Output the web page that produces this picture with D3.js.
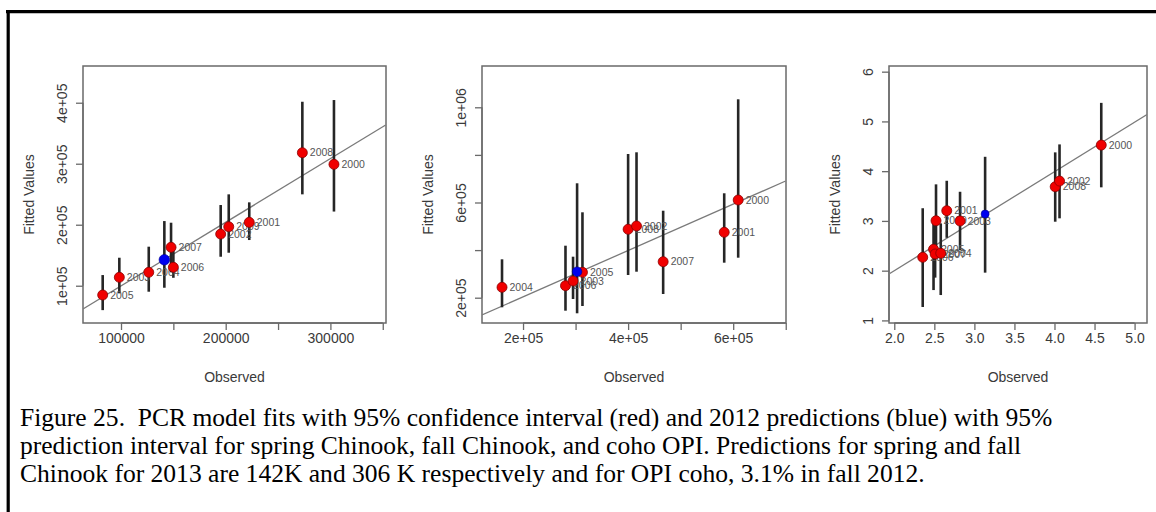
<!DOCTYPE html>
<html><head><meta charset="utf-8">
<script src="https://cdn.jsdelivr.net/npm/d3@7"></script>
<style>
html,body{margin:0;padding:0;background:#fff;}
svg{display:block;}
</style>
</head><body>
<svg id="chart" width="1156" height="512"></svg>
<script>
// ---------- DATA ----------
// Panel 1: spring Chinook
const p1Years = ["2005","2003","2004","2007","2006","2002","2009","2001","2008","2000"];
const p1Obs   = [82500, 98400, 126500, 147800, 150000, 195200, 202900, 222500, 273200, 303400];
const p1Fit   = [84800, 113800, 122000, 163000, 130200, 184700, 196700, 203900, 318000, 299000];
const p1Lo    = [60000, 87500, 90200, 122000, 113000, 147500, 154100, 174900, 249800, 221600];
const p1Hi    = [117500, 145900, 164000, 203300, 166000, 232300, 249800, 236700, 401600, 404400];
const p1Pred  = [141400, 142600, 96700, 206000];   // obs, fitted, lo, hi
const p1Line  = [[63700, 61800], [352800, 363400]];
const p1XTicks = [100000, 150000, 200000, 250000, 300000, 350000];
const p1XLabels = ["100000", "", "200000", "", "300000", ""];
const p1YTicks = [100000, 200000, 300000, 400000];
const p1YLabels = ["1e+05", "2e+05", "3e+05", "4e+05"];

// Panel 2: fall Chinook
const p2Years = ["2004","2006","2003","2005","2008","2002","2007","2001","2000"];
const p2Obs   = [160000, 280800, 295200, 313100, 400000, 416000, 466700, 582900, 609500];
const p2Fit   = [243700, 250400, 270200, 306700, 487400, 501300, 351300, 474800, 610500];
const p2Lo    = [159700, 145400, 194500, 165100, 295400, 309200, 215500, 347100, 368100];
const p2Hi    = [361300, 418500, 372300, 558800, 803800, 810900, 565500, 638700, 1033600];
const p2Pred  = [302900, 309200, 134500, 680700];
const p2Line  = [[121900, 127300], [699800, 690300]];
const p2XTicks = [200000, 300000, 400000, 500000, 600000, 700000];
const p2XLabels = ["2e+05", "", "4e+05", "", "6e+05", ""];
const p2YTicks = [200000, 400000, 600000, 800000, 1000000];
const p2YLabels = ["2e+05", "", "6e+05", "", "1e+06"];

// Panel 3: coho OPI
const p3Years = ["2006","2005","2007","2004","2009","2001","2003","2008","2002","2000"];
const p3Obs   = [2.355, 2.49, 2.51, 2.58, 2.521, 2.655, 2.821, 4.009, 4.063, 4.584];
const p3Fit   = [2.269, 2.43, 2.335, 2.35, 3.004, 3.205, 2.998, 3.687, 3.801, 4.524];
const p3Lo    = [1.27, 1.61, 1.86, 1.51, 2.27, 2.66, 2.41, 2.984, 3.052, 3.675];
const p3Hi    = [3.255, 3.0, 2.9, 2.95, 3.735, 3.807, 3.586, 4.378, 4.538, 5.373];
const p3Pred  = [3.134, 3.139, 1.96, 4.289];
const p3Line  = [[1.934, 1.934], [5.155, 5.14]];
const p3XTicks = [2.0, 2.5, 3.0, 3.5, 4.0, 4.5, 5.0];
const p3XLabels = ["2.0", "2.5", "3.0", "3.5", "4.0", "4.5", "5.0"];
const p3YTicks = [1, 2, 3, 4, 5, 6];
const p3YLabels = ["1", "2", "3", "4", "5", "6"];

const xTitle = "Observed";
const yTitle = "Fitted Values";
const captionLines = [
  "Figure 25.  PCR model fits with 95% confidence interval (red) and 2012 predictions (blue) with 95%",
  "prediction interval for spring Chinook, fall Chinook, and coho OPI. Predictions for spring and fall",
  "Chinook for 2013 are 142K and 306 K respectively and for OPI coho, 3.1% in fall 2012."
];

// ---------- DRAW ----------
const svg = d3.select("#chart");
const AXF = "'Liberation Sans', Arial, sans-serif";

// outer frame
svg.append("line").attr("x1", 6).attr("x2", 1156).attr("y1", 11.7).attr("y2", 11.7)
  .attr("stroke", "#000").attr("stroke-width", 3.2);
svg.append("line").attr("x1", 8.2).attr("x2", 8.2).attr("y1", 10).attr("y2", 512)
  .attr("stroke", "#000").attr("stroke-width", 3.2);

const panels = [
  {id: 1, box: [83, 386, 66, 323], xd: [63700, 353100], yd: [38900, 460200],
   years: p1Years, obs: p1Obs, fit: p1Fit, lo: p1Lo, hi: p1Hi, pred: p1Pred, line: p1Line,
   xt: p1XTicks, xl: p1XLabels, yt: p1YTicks, yl: p1YLabels, br: 5.3},
  {id: 2, box: [482, 786, 66, 323], xd: [121900, 700500], yd: [93700, 1173500],
   years: p2Years, obs: p2Obs, fit: p2Fit, lo: p2Lo, hi: p2Hi, pred: p2Pred, line: p2Line,
   xt: p2XTicks, xl: p2XLabels, yt: p2YTicks, yl: p2YLabels, br: 4.8},
  {id: 3, box: [889, 1147, 66, 323], xd: [1.934, 5.155], yd: [0.948, 6.114],
   years: p3Years, obs: p3Obs, fit: p3Fit, lo: p3Lo, hi: p3Hi, pred: p3Pred, line: p3Line,
   xt: p3XTicks, xl: p3XLabels, yt: p3YTicks, yl: p3YLabels, br: 4.0}
];

panels.forEach(p => {
  const [bx0, bx1, by0, by1] = p.box;
  const x = d3.scaleLinear().domain(p.xd).range([bx0, bx1]);
  const y = d3.scaleLinear().domain(p.yd).range([by1, by0]);
  const g = svg.append("g");

  const clipId = "clip" + p.id;
  svg.append("clipPath").attr("id", clipId).append("rect")
    .attr("x", bx0).attr("y", by0).attr("width", bx1 - bx0).attr("height", by1 - by0);

  // axes
  const xAxis = d3.axisBottom(x).tickValues(p.xt).tickSize(7).tickPadding(9)
    .tickFormat((d, i) => p.xl[i]);
  const gx = g.append("g").attr("transform", `translate(0,${by1})`).call(xAxis);
  gx.select(".domain").attr("d", `M${x(p.xt[0])},0H${x(p.xt[p.xt.length-1])}`)
    .attr("stroke", "#6a6a6a").attr("stroke-width", 1.3);
  gx.selectAll(".tick line").attr("stroke", "#6a6a6a").attr("stroke-width", 1.3);
  gx.selectAll(".tick text").attr("font-family", AXF).attr("font-size", 14)
    .attr("fill", "#3a3a3a").attr("y", 16).attr("dy", "0.32em");

  const yAxis = d3.axisLeft(y).tickValues(p.yt).tickSize(7).tickFormat((d, i) => p.yl[i]);
  const gy = g.append("g").attr("transform", `translate(${bx0},0)`).call(yAxis);
  gy.select(".domain").attr("d", `M0,${y(p.yt[0])}V${y(p.yt[p.yt.length-1])}`)
    .attr("stroke", "#6a6a6a").attr("stroke-width", 1.3);
  gy.selectAll(".tick line").attr("stroke", "#6a6a6a").attr("stroke-width", 1.3);
  gy.selectAll(".tick text").attr("font-family", AXF).attr("font-size", 14)
    .attr("fill", "#3a3a3a").attr("x", null).attr("dy", null)
    .attr("text-anchor", "middle")
    .attr("transform", "translate(-21,0) rotate(-90)")
    .attr("y", 0).attr("dy", "0.35em");

  // box
  g.append("rect").attr("x", bx0).attr("y", by0).attr("width", bx1 - bx0).attr("height", by1 - by0)
    .attr("fill", "none").attr("stroke", "#6a6a6a").attr("stroke-width", 1.5);

  // titles
  g.append("text").attr("x", (bx0 + bx1) / 2).attr("y", 377.5).attr("dy", "0.35em")
    .attr("text-anchor", "middle").attr("font-family", AXF).attr("font-size", 14)
    .attr("fill", "#3a3a3a").text(xTitle);
  g.append("text").attr("transform", `translate(${bx0 - 54},${(by0 + by1) / 2}) rotate(-90)`)
    .attr("dy", "0.35em").attr("text-anchor", "middle").attr("font-family", AXF)
    .attr("font-size", 14).attr("fill", "#3a3a3a").text(yTitle);

  const inner = g.append("g").attr("clip-path", `url(#${clipId})`);

  // fit line
  inner.append("line")
    .attr("x1", x(p.line[0][0])).attr("y1", y(p.line[0][1]))
    .attr("x2", x(p.line[1][0])).attr("y2", y(p.line[1][1]))
    .attr("stroke", "#7a7a7a").attr("stroke-width", 1.3);

  const idx = d3.range(p.obs.length);
  // CI lines
  inner.selectAll("line.ci").data(idx).join("line").attr("class", "ci")
    .attr("x1", i => x(p.obs[i])).attr("x2", i => x(p.obs[i]))
    .attr("y1", i => y(p.lo[i])).attr("y2", i => y(p.hi[i]))
    .attr("stroke", "#262626").attr("stroke-width", 2.6);
  inner.append("line")
    .attr("x1", x(p.pred[0])).attr("x2", x(p.pred[0]))
    .attr("y1", y(p.pred[2])).attr("y2", y(p.pred[3]))
    .attr("stroke", "#262626").attr("stroke-width", 2.6);

  // year labels
  g.selectAll("text.yr").data(idx).join("text").attr("class", "yr")
    .attr("x", i => x(p.obs[i]) + 7.5).attr("y", i => y(p.fit[i])).attr("dy", "0.35em")
    .attr("font-family", AXF).attr("font-size", 10.5).attr("fill", "#555")
    .text(i => p.years[i]);

  // red points
  g.selectAll("circle.pt").data(idx).join("circle").attr("class", "pt")
    .attr("cx", i => x(p.obs[i])).attr("cy", i => y(p.fit[i])).attr("r", 5)
    .attr("fill", "#f00000").attr("stroke", "#8a0000").attr("stroke-width", 0.8);

  // blue prediction
  g.append("circle").attr("cx", x(p.pred[0])).attr("cy", y(p.pred[1])).attr("r", p.br)
    .attr("fill", "#0000f0").attr("stroke", "#00008a").attr("stroke-width", 0.6);
});

// caption
const cap = svg.append("g");
const capBase = [425.7, 453.8, 481.7];
const capT = cap.selectAll("text").data(captionLines).join("text")
  .attr("x", 20).attr("y", (d, i) => capBase[i])
  .attr("font-family", "'Liberation Serif', 'Times New Roman', serif")
  .attr("font-size", 100).attr("fill", "#000")
  .style("white-space", "pre").text(d => d);
// fit font size to the first caption line width
const w100 = capT.nodes()[0].getComputedTextLength();
const fs = 100 * (1033 / w100);
capT.attr("font-size", fs);
</script>
</body></html>
